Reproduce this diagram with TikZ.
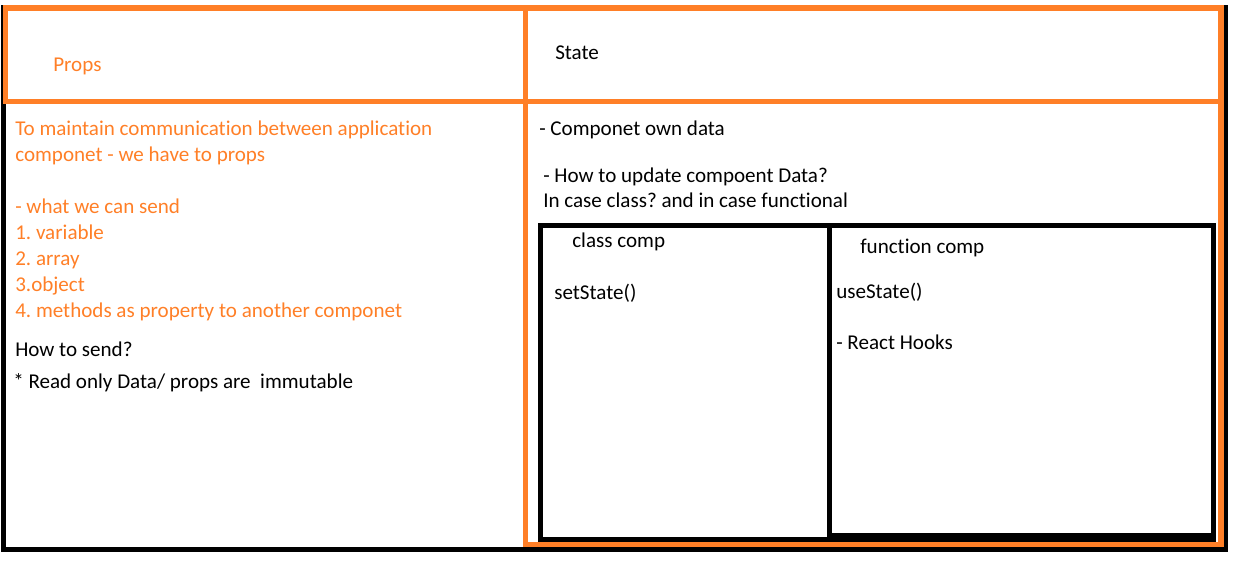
\documentclass[tikz,border=0pt]{standalone}
\usepackage{fontspec}
\setmainfont{Carlito}[Ligatures={NoCommon}]
\frenchspacing
\definecolor{paintorange}{HTML}{FF7F27}
\begin{document}
\begin{tikzpicture}[x=.75pt, y=-.75pt,
        txt/.style={anchor=base west, inner sep=0pt, font=\fontsize{15.8}{19}\selectfont},
        otxt/.style={txt, text=paintorange},
        oline/.style={draw=paintorange, line width=4.1pt},
        bline/.style={draw=black, line width=3.75pt}]
        \useasboundingbox (0,0) rectangle (1235,583);
        % outer frames
        \draw[bline] (3,7) rectangle (1225.5,549.5);
        \draw[oline] (5.5,8) rectangle (1221,101.5);
        \draw[oline] (525.5,8)--(525.5,544.5)--(1221,544.5)--(1221,101.5);
        % inner box
        \draw[bline] (540.5,225.5) rectangle (1213.5,539.5);
        \draw[bline] (829.5,225.5)--(829.5,539.5);
        \draw[bline] (829.5,535.5)--(1213.5,535.5);
        % props column
        \node[otxt] (props) at (53,71) {Props};
        \node[otxt] (maintain) at (15,135) {To maintain communication between application};
        \node[otxt] (havetoprops) at (15,161) {componet - we have to props};
        \node[otxt] (cansend) at (15,213) {- what we can send};
        \node[otxt] (variable) at (15,239) {1. variable};
        \node[otxt] (array) at (15,265) {2. array};
        \node[otxt] (object) at (15,291) {3.object};
        \node[otxt] (methods) at (15,317) {4. methods as property to another componet};
        \node[txt] (howsend) at (15,356) {How to send?};
        \node[txt] (readonly) at (13,388) {* Read only Data/ props are \ immutable};
        % state column
        \node[txt] (state) at (555,59) {State};
        \node[txt] (owndata) at (539,135) {- Componet own data};
        \node[txt] (update) at (543,182) {- How to update compoent Data?};
        \node[txt] (incase) at (543,207) {In case class? and in case functional};
        \node[txt] (classcomp) at (572,247) {class comp};
        \node[txt] (setstate) at (554,299) {setState()};
        \node[txt] (funccomp) at (860,253) {function comp};
        \node[txt] (usestate) at (836,298) {useState()};
        \node[txt] (hooks) at (836,349) {- React Hooks};
\end{tikzpicture}
\end{document}
